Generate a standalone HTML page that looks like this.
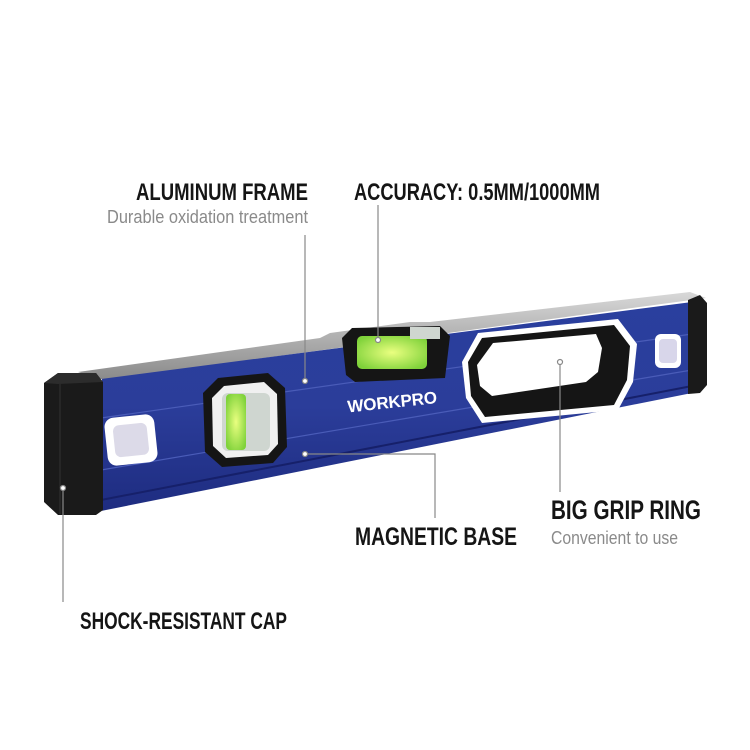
<!DOCTYPE html>
<html><head><meta charset="utf-8"><style>
html,body{margin:0;padding:0;background:#fff;width:750px;height:750px;overflow:hidden}
svg{display:block}
.h{font-family:"Liberation Sans",sans-serif;font-weight:bold;fill:#151515}
.s{font-family:"Liberation Sans",sans-serif;fill:#8a8a8a}
</style></head><body>
<svg width="750" height="750" viewBox="0 0 750 750">
<defs>
<linearGradient id="blue" x1="0" y1="0" x2="0" y2="1">
<stop offset="0" stop-color="#2a3f9e"/><stop offset="0.5" stop-color="#2b3d9a"/><stop offset="1" stop-color="#1e2c80"/>
</linearGradient>
<linearGradient id="sil" x1="0" y1="0" x2="0" y2="1">
<stop offset="0" stop-color="#d8d8d8"/><stop offset="1" stop-color="#8a8a8a"/>
</linearGradient>
<radialGradient id="grn" cx="0.5" cy="0.5" r="0.6">
<stop offset="0" stop-color="#eaff80"/><stop offset="1" stop-color="#7fd23a"/>
</radialGradient>
</defs>

<polygon points="78,372 320,338 330,333 410,322 430,322 690,292 706,298 102,380" fill="url(#sil)"/>
<polygon points="101,379 692,302 692,393 101,511" fill="url(#blue)"/>
<line x1="101" y1="418" x2="692" y2="334" stroke="#4a5cb8" stroke-width="1.2"/>
<line x1="101" y1="470" x2="692" y2="370" stroke="#4a5cb8" stroke-width="1.2"/>
<line x1="101" y1="500" x2="692" y2="386" stroke="#16206a" stroke-width="2"/>
<line x1="101" y1="379" x2="101" y2="511" stroke="#fff" stroke-width="2"/>

<polygon points="44,383 58,373 96,373 103,382 103,510 96,515 58,515 44,502" fill="#1a1a1a"/>
<polygon points="44,383 58,373 96,373 103,382 58,384" fill="#2c2c2c"/>
<line x1="60" y1="384" x2="60" y2="514" stroke="#333" stroke-width="1"/>
<polygon points="688,300 700,295 707,303 707,385 700,393 688,394" fill="#1a1a1a"/>

<rect x="106" y="416" width="50" height="48" rx="9" fill="#fff" transform="rotate(-6 131 440)"/>
<rect x="114" y="424" width="34" height="32" rx="6" fill="#dcdae8" transform="rotate(-6 131 440)"/>
<rect x="655" y="334" width="26" height="34" rx="6" fill="#fff"/>
<rect x="659" y="339" width="18" height="24" rx="4" fill="#d8d6ea"/>

<polygon points="218,378 268,373 285,388 287,447 273,463 222,467 205,452 203,393" fill="#151515"/>
<polygon points="224,386 264,382 277,394 278,444 268,455 226,458 213,446 212,398" fill="#f0f0f0"/>
<rect x="222" y="393" width="48" height="58" rx="6" fill="#cfd6d0"/>
<rect x="226" y="394" width="20" height="56" rx="4" fill="url(#grn)"/>

<polygon points="342,338 352,328 440,326 450,336 445,378 355,382 346,375" fill="#151515"/>
<rect x="357" y="336" width="70" height="33" rx="5" fill="url(#grn)"/>
<rect x="410" y="327" width="30" height="12" fill="#cfd6d0"/>
<text x="347" y="408" class="h" style="fill:#fff" font-size="17" textLength="90" transform="rotate(-6 390 400)">WORKPRO</text>

<polygon points="462,362 478,333 618,319 637,344 633,382 618,410 482,423 466,398" fill="#fff"/>
<polygon points="468,362 482,338 614,325 630,346 627,380 614,405 485,417 471,396" fill="#151515"/>
<polygon points="477,365 493,343 596,334 602,348 598,372 586,382 492,396 480,386" fill="#fff"/>

<g stroke="#888" stroke-width="1.2" fill="#fff">
<line x1="305" y1="235" x2="305" y2="378"/>
<circle cx="305" cy="381" r="2.5"/>
<line x1="378" y1="205" x2="378" y2="337"/>
<circle cx="378" cy="340" r="2.5"/>
<polyline points="308,454 435,454 435,518" fill="none"/>
<circle cx="305" cy="454" r="2.5"/>
<line x1="560" y1="365" x2="560" y2="492"/>
<circle cx="560" cy="362" r="2.5"/>
<line x1="63" y1="491" x2="63" y2="602"/>
<circle cx="63" cy="488" r="2.5"/>
</g>

<text x="136" y="200" class="h" font-size="24" textLength="172" lengthAdjust="spacingAndGlyphs">ALUMINUM FRAME</text>
<text x="107" y="223" class="s" font-size="18" textLength="201" lengthAdjust="spacingAndGlyphs">Durable oxidation treatment</text>
<text x="354" y="200" class="h" font-size="24" textLength="246" lengthAdjust="spacingAndGlyphs">ACCURACY: 0.5MM/1000MM</text>
<text x="551" y="519" class="h" font-size="27" textLength="150" lengthAdjust="spacingAndGlyphs">BIG GRIP RING</text>
<text x="551" y="544" class="s" font-size="18" textLength="127" lengthAdjust="spacingAndGlyphs">Convenient to use</text>
<text x="355" y="545" class="h" font-size="25" textLength="162" lengthAdjust="spacingAndGlyphs">MAGNETIC BASE</text>
<text x="80" y="629" class="h" font-size="24" textLength="207" lengthAdjust="spacingAndGlyphs">SHOCK-RESISTANT CAP</text>
</svg>
</body></html>
